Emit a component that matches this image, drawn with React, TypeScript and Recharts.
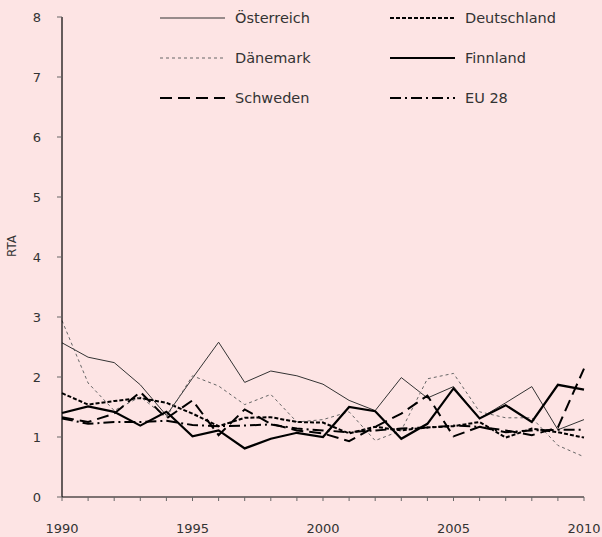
import React from 'react';
import { LineChart, Line, XAxis, YAxis, Legend } from 'recharts';

const years = [1990, 1991, 1992, 1993, 1994, 1995, 1996, 1997, 1998, 1999, 2000, 2001, 2002, 2003, 2004, 2005, 2006, 2007, 2008, 2009, 2010];

const oesterreich = [2.57, 2.33, 2.24, 1.87, 1.36, 1.98, 2.58, 1.91, 2.1, 2.02, 1.88, 1.61, 1.44, 1.99, 1.65, 1.84, 1.31, 1.57, 1.84, 1.12, 1.29];
const deutschland = [1.73, 1.54, 1.6, 1.65, 1.57, 1.39, 1.18, 1.32, 1.33, 1.25, 1.24, 1.06, 1.17, 1.11, 1.16, 1.18, 1.25, 0.99, 1.14, 1.08, 0.99];
const daenemark = [2.94, 1.9, 1.44, 1.67, 1.33, 2.02, 1.85, 1.54, 1.71, 1.25, 1.29, 1.42, 0.94, 1.11, 1.97, 2.06, 1.42, 1.32, 1.32, 0.86, 0.67];
const finnland = [1.4, 1.51, 1.42, 1.19, 1.42, 1.01, 1.11, 0.81, 0.97, 1.07, 1.0, 1.5, 1.43, 0.97, 1.22, 1.81, 1.31, 1.53, 1.25, 1.87, 1.79];
const schweden = [1.33, 1.25, 1.39, 1.75, 1.31, 1.61, 1.03, 1.46, 1.22, 1.11, 1.06, 0.93, 1.17, 1.39, 1.69, 1.01, 1.17, 1.11, 1.03, 1.16, 2.14];
const eu28 = [1.31, 1.22, 1.25, 1.25, 1.27, 1.2, 1.18, 1.19, 1.21, 1.14, 1.11, 1.08, 1.11, 1.14, 1.16, 1.19, 1.17, 1.08, 1.11, 1.12, 1.12];

const yTicks = [0, 1, 2, 3, 4, 5, 6, 7, 8];

const data = years.map((year, i) => ({
  year,
  oe: oesterreich[i],
  de: deutschland[i],
  dk: daenemark[i],
  fi: finnland[i],
  se: schweden[i],
  eu: eu28[i],
}));

const series = [
  { key: 'oe', name: 'Österreich', color: '#333', width: 1, dash: undefined },
  { key: 'de', name: 'Deutschland', color: '#000', width: 2, dash: '4 2' },
  { key: 'dk', name: 'Dänemark', color: '#666', width: 1, dash: '3 3' },
  { key: 'fi', name: 'Finnland', color: '#000', width: 2.2, dash: undefined },
  { key: 'se', name: 'Schweden', color: '#000', width: 2, dash: '12 6' },
  { key: 'eu', name: 'EU 28', color: '#000', width: 2, dash: '11 4 2 4' },
];

const font = '"DejaVu Sans", sans-serif';

const LegendBox = () => (
  <svg width={602} height={115} style={{ display: 'block' }}>
    {series.map((s, i) => {
      const col = i % 2;
      const row = Math.floor(i / 2);
      const x0 = col === 0 ? 160 : 390;
      const y = 18 + row * 40;
      return (
        <g key={s.key}>
          <line x1={x0} y1={y} x2={x0 + 65} y2={y} stroke={s.color} strokeWidth={s.width} strokeDasharray={s.dash} />
          <text x={x0 + 75} y={y + 5} fontSize={14.5} fill="#333" fontFamily={font}>{s.name}</text>
        </g>
      );
    })}
  </svg>
);

const XTick = (props: any) => {
  const { x, y, payload } = props;
  if (payload.value % 5 !== 0) return null;
  return (
    <text x={x} y={y + 30} textAnchor="middle" fontSize={13} fill="#333" fontFamily={font}>
      {payload.value}
    </text>
  );
};

const App = () => {
  return (
    <div style={{ position: 'absolute', left: 0, top: 0, width: 602, height: 537, background: '#fde4e4' }}>
      <LineChart width={602} height={537} data={data} margin={{ top: 17, right: 18, left: 0, bottom: 0 }}>
        <XAxis
          dataKey="year"
          type="number"
          domain={[1990, 2010]}
          ticks={years}
          interval={0}
          tick={<XTick />}
          tickSize={4}
          height={40}
          axisLine={{ stroke: '#000', strokeWidth: 1.2 }}
          tickLine={{ stroke: '#666' }}
        />
        <YAxis
          domain={[0, 8]}
          ticks={yTicks}
          interval={0}
          width={62}
          tickSize={5}
          tickMargin={16}
          tick={{ fontSize: 13, fill: '#333', fontFamily: font }}
          axisLine={{ stroke: '#000', strokeWidth: 1.2 }}
          tickLine={{ stroke: '#666' }}
          label={{ value: 'RTA', angle: -90, position: 'insideLeft', offset: 12, style: { fontSize: 12, fill: '#333', fontFamily: font } }}
        />
        <Legend
          layout="horizontal"
          verticalAlign="middle"
          align="center"
          wrapperStyle={{ top: 0, left: 0, width: 602 }}
          content={<LegendBox />}
        />
        {series.map((s) => (
          <Line
            key={s.key}
            type="linear"
            dataKey={s.key}
            name={s.name}
            stroke={s.color}
            strokeWidth={s.width}
            strokeDasharray={s.dash}
            dot={false}
            activeDot={false}
            isAnimationActive={false}
          />
        ))}
      </LineChart>
    </div>
  );
};

export default App;
